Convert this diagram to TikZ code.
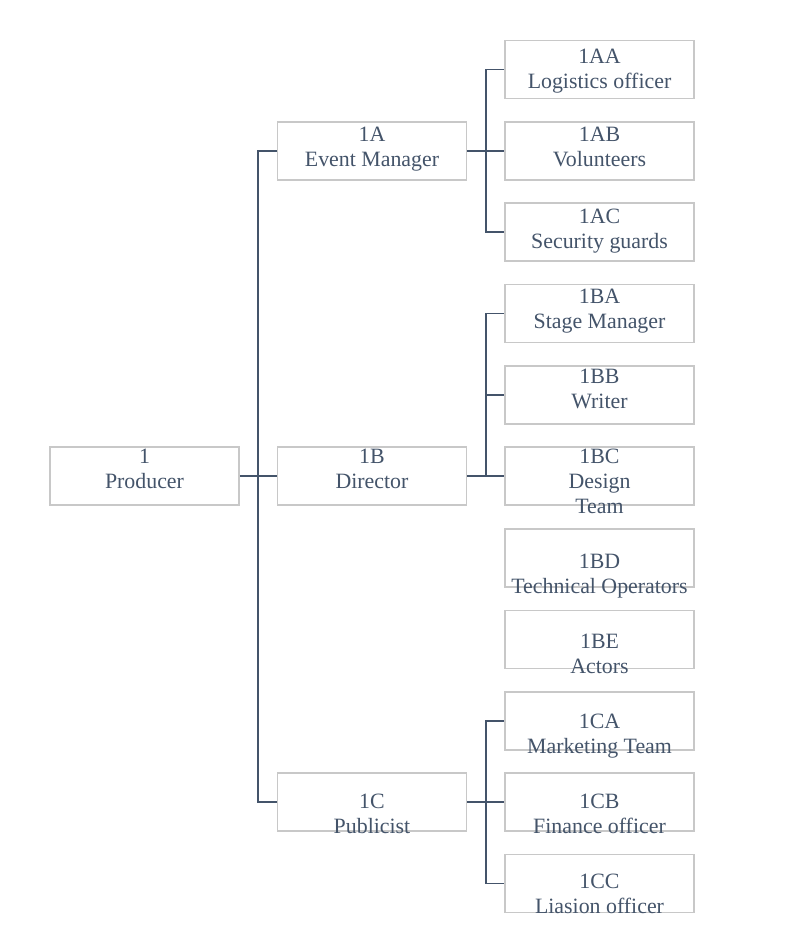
\documentclass[tikz,border=0pt]{standalone}
\usepackage{fontspec}
\setmainfont{Liberation Serif}
\definecolor{txt}{HTML}{44546A}
\definecolor{boxgray}{HTML}{C8C8C8}
\definecolor{linec}{HTML}{44546A}
\newcommand{\twoline}[2]{\begin{tabular}[t]{@{}c@{}}#1\\#2\end{tabular}}
\newcommand{\threeline}[3]{\begin{tabular}[t]{@{}c@{}}#1\\#2\\#3\end{tabular}}
\begin{document}
\begin{tikzpicture}[x=0.75pt,y=-0.75pt,
  orgbox/.style={draw=boxgray,line width=1.4pt,rectangle,minimum width=141.75pt,minimum height=43.5pt,inner sep=0pt,fill=white},
  lbl/.style={anchor=base,inner sep=0pt,text=txt,font=\fontsize{16.4}{18.75}\selectfont},
  conn/.style={draw=linec,line width=0.95pt}]
\useasboundingbox (0,0) rectangle (796,945);
% boxes (centers)
\node[orgbox] (P)   at (144.5,476) {};
\node[orgbox] (A)   at (372,151) {};
\node[orgbox] (B)   at (372,476) {};
\node[orgbox] (C)   at (372,802) {};
\node[orgbox] (AA)  at (599.5,69.5) {};
\node[orgbox] (AB)  at (599.5,151) {};
\node[orgbox] (AC)  at (599.5,232) {};
\node[orgbox] (BA)  at (599.5,313.5) {};
\node[orgbox] (BB)  at (599.5,395) {};
\node[orgbox] (BC)  at (599.5,476) {};
\node[orgbox] (BD)  at (599.5,558) {};
\node[orgbox] (BE)  at (599.5,639.5) {};
\node[orgbox] (CA)  at (599.5,721) {};
\node[orgbox] (CB)  at (599.5,802) {};
\node[orgbox] (CC)  at (599.5,883.5) {};
% connector trunks
\coordinate (t1) at (258,0);
\coordinate (t2) at (486,0);
\draw[conn] (P.east) -- (B.west);
\draw[conn] (A.west) -| (t1 |- C.west) -- (C.west);
\draw[conn] (A.east) -- (AB.west);
\draw[conn] (AA.west) -| (t2 |- AC.west) -- (AC.west);
\draw[conn] (B.east) -- (BC.west);
\draw[conn] (BA.west) -| (t2 |- BC.west);
\draw[conn] (t2 |- BB.west) -- (BB.west);
\draw[conn] (C.east) -- (CB.west);
\draw[conn] (CA.west) -| (t2 |- CC.west) -- (CC.west);
% labels
\node[lbl] (lP)  at (144.5,463.3) {\twoline{1}{Producer}};
\node[lbl] (lA)  at (372,141.7) {\twoline{1A}{Event Manager}};
\node[lbl] (lB)  at (372,463.3) {\twoline{1B}{Director}};
\node[lbl] (lC)  at (372,808.3) {\twoline{1C}{Publicist}};
\node[lbl] (lAA) at (599.5,63.3) {\twoline{1AA}{Logistics officer}};
\node[lbl] (lAB) at (599.5,141.7) {\twoline{1AB}{Volunteers}};
\node[lbl] (lAC) at (599.5,223.3) {\twoline{1AC}{Security guards}};
\node[lbl] (lBA) at (599.5,303.3) {\twoline{1BA}{Stage Manager}};
\node[lbl] (lBB) at (599.5,383.3) {\twoline{1BB}{Writer}};
\node[lbl] (lBC) at (599.5,463.3) {\threeline{1BC}{Design}{Team}};
\node[lbl] (lBD) at (599.5,568) {\twoline{1BD}{Technical Operators}};
\node[lbl] (lBE) at (599.5,648) {\twoline{1BE}{Actors}};
\node[lbl] (lCA) at (599.5,728) {\twoline{1CA}{Marketing Team}};
\node[lbl] (lCB) at (599.5,808) {\twoline{1CB}{Finance officer}};
\node[lbl] (lCC) at (599.5,888) {\twoline{1CC}{Liasion officer}};
\end{tikzpicture}
\end{document}
